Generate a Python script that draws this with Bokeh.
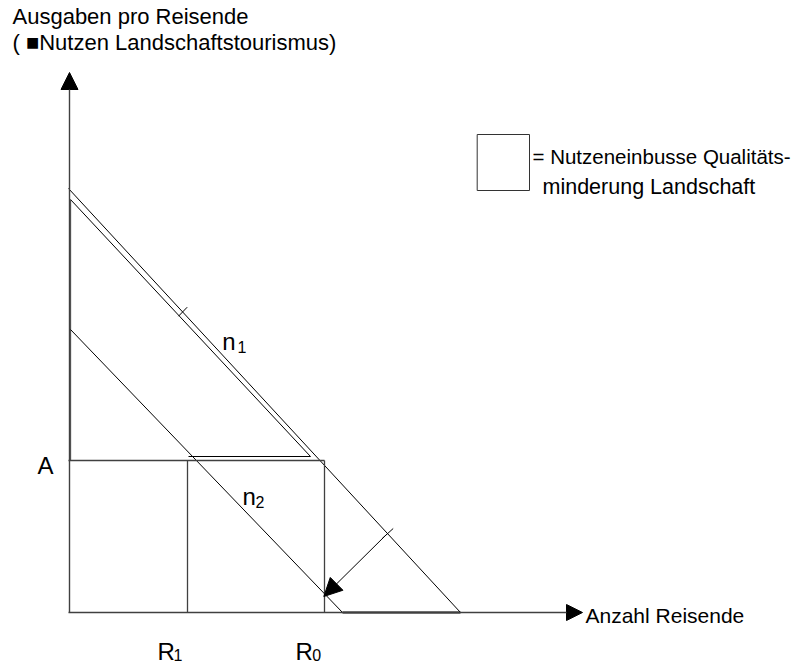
from bokeh.plotting import figure
from bokeh.models import Range1d, Arrow, NormalHead
from bokeh.core.properties import value
from bokeh.embed import file_html
from bokeh.resources import INLINE

# ---- data (schematic units) ----
y_axis_top = 54.0          # tip of the price axis arrow
x_axis_end = 51.4          # tip of the quantity axis arrow

n1_x = [0.0, 39.2]         # demand curve n1 (outer)
n1_y = [42.4, 0.0]
n1_inner_x = [0.2, 24.2]   # inner parallel of n1
n1_inner_y = [41.3, 15.6]
n2_x = [0.2, 27.4]         # demand curve n2
n2_y = [28.3, 0.0]

price_A = 15.2             # spending level A
inner_base_y = 15.6
inner_base_x = [12.0, 24.2]
R1 = 11.9                  # travellers after
R0 = 25.6                  # travellers before

base_x = [27.4, 39.2]      # base segment along the quantity axis

shift_from = [31.87, 7.87]  # start of the shift arrow (on n1)
shift_to = [25.53, 1.6]     # end of the shift arrow (on n2)
tick_arrow_x = [31.37, 32.47]
tick_arrow_y = [7.4, 8.4]
tick_n1_x = [11.0, 11.87]
tick_n1_y = [29.63, 30.53]

legend_box = [40.87, 46.1, 47.8, 42.2]   # left, right, top, bottom

FONT = value("Liberation Sans")
DY = 0.7   # baseline correction for svg text

p = figure(width=807, height=663, x_range=Range1d(-6.8, 73.9), y_range=Range1d(-5.1, 61.2),
           min_border=0, toolbar_location=None, output_backend="svg",
           x_axis_type=None, y_axis_type=None)
p.grid.visible = False
p.outline_line_color = None
p.background_fill_color = "white"
p.border_fill_color = "white"

AX = "#404040"
# axes with arrows
p.add_layout(Arrow(x_start=0.1, y_start=0, x_end=0.1, y_end=y_axis_top, line_color=AX, line_width=1.4,
                   end=NormalHead(size=17, fill_color="black", line_color="black")))
p.add_layout(Arrow(x_start=0, y_start=0, x_end=x_axis_end, y_end=0, line_color=AX, line_width=1.4,
                   end=NormalHead(size=16, fill_color="black", line_color="black")))

# demand curves
p.line(n1_x, n1_y, line_color="black", line_width=1)
p.line(n1_inner_x, n1_inner_y, line_color="black", line_width=1)
p.line(inner_base_x, [inner_base_y, inner_base_y], line_color="black", line_width=1.2)
p.line([n1_inner_x[0], n1_inner_x[0]], [n1_inner_y[0], price_A], line_color="#555555", line_width=1.3)
p.line(n2_x, n2_y, line_color="black", line_width=1)
p.line(base_x, [0, 0], line_color="black", line_width=2.2)

# rectangle at level A
p.line([0, R0], [price_A, price_A], line_color=AX, line_width=1.3)
p.line([R1, R1], [0, price_A], line_color=AX, line_width=1.3)
p.line([R0, R0], [0, price_A], line_color=AX, line_width=1.3)

# ticks and shift arrow
p.line(tick_n1_x, tick_n1_y, line_color="black", line_width=1)
p.line(tick_arrow_x, tick_arrow_y, line_color="black", line_width=1)
p.add_layout(Arrow(x_start=shift_from[0], y_start=shift_from[1], x_end=shift_to[0], y_end=shift_to[1],
                   line_color="black", line_width=1,
                   end=NormalHead(size=18, fill_color="black", line_color="black")))

# legend box
p.quad(left=[legend_box[0]], right=[legend_box[1]], top=[legend_box[2]], bottom=[legend_box[3]],
       fill_color="white", line_color="#333333", line_width=1)

def txt(x, y, s, size):
    p.text(x=[x], y=[y + DY], text=[s], text_font=FONT, text_font_size=f"{size}px",
           text_color="black", text_baseline="alphabetic", text_align="left")

txt(-5.6, 58.9, "Ausgaben pro Reisende", 22)
txt(-5.6, 56.35, "( \u25a0Nutzen Landschaftstourismus)", 22)
txt(51.7, -0.97, "Anzahl Reisende", 21)
txt(46.4, 44.9, "= Nutzeneinbusse Qualitäts-", 20.5)
txt(47.4, 41.9, "minderung Landschaft", 21.5)
txt(-3.1, 14.0, "A", 24)
txt(15.37, 26.4, "n", 24)
txt(16.9, 25.9, "1", 16)
txt(17.4, 10.9, "n", 24)
txt(18.7, 10.4, "2", 16)
txt(8.9, -4.55, "R", 24)
txt(10.5, -4.9, "1", 16)
txt(22.7, -4.55, "R", 24)
txt(24.37, -4.9, "0", 16)

open("out.html", "w").write(file_html(p, INLINE))
